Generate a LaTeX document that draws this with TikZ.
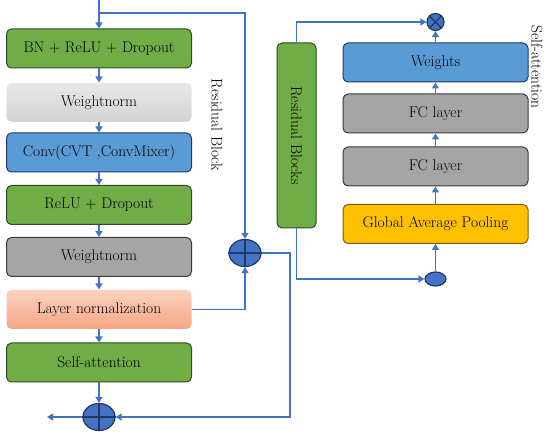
\documentclass[tikz,border=0pt]{standalone}
\usepackage{fontspec}
\usepackage{tikz}
\usetikzlibrary{arrows.meta,calc,shapes.geometric}
\definecolor{ARR}{HTML}{4472C4}
\definecolor{GRN}{HTML}{70AD47}
\definecolor{GRND}{HTML}{2E4A1E}
\definecolor{BLU}{HTML}{5B9BD5}
\definecolor{BLUD}{HTML}{1F3864}
\definecolor{GRY}{HTML}{A5A5A5}
\definecolor{GRYD}{HTML}{3A3A3A}
\definecolor{YEL}{HTML}{FFC000}
\definecolor{YELD}{HTML}{7F6000}
\definecolor{SALT}{HTML}{FBD2BF}
\definecolor{SALB}{HTML}{F4A584}
\begin{document}
\begin{tikzpicture}[x=1pt,y=-1pt]
\tikzset{box/.style={rounded corners=5pt,minimum width=185pt,minimum height=39pt,line width=1pt,
  font=\fontsize{15.5}{17}\selectfont,inner sep=2pt,text=black},
 gbox/.style={box,draw=GRND,fill=GRN},bbox/.style={box,draw=BLUD,fill=BLU},
 ybox/.style={box,draw=YELD,fill=YEL},dbox/.style={box,draw=GRYD,fill=GRY},
 arr/.style={-{Triangle[length=6pt,width=7pt]},line width=1.4pt,ARR},
 sumnode/.style={ellipse,draw=BLUD,fill=ARR,line width=1.2pt,minimum width=32pt,minimum height=27pt,inner sep=0pt},
 lbl/.style={rotate=-90,font=\fontsize{15.5}{17}\selectfont}}
\useasboundingbox (0,0) rectangle (550,435);
% left: residual block
\node[gbox] (bn) at (99,48.5) {BN + ReLU + Dropout};
\node[box,top color=gray!18,bottom color=gray!35] (wna) at (99,102.5) {Weightnorm};
\node[bbox] (conv) at (99,152.5) {Conv(CVT ,ConvMixer)};
\node[gbox] (relu) at (99,205) {ReLU + Dropout};
\node[dbox] (wnb) at (99,257) {Weightnorm};
\node[box,top color=SALT,bottom color=SALB] (lnorm) at (99,309.5) {Layer normalization};
\node[gbox] (satt) at (99,362.5) {Self-attention};
\node[sumnode] (adda) at (245,253) {};
\node[sumnode] (addb) at (99,417) {};
\draw[BLUD,line width=1.2pt] (adda.north)--(adda.south) (adda.west)--(adda.east);
\draw[BLUD,line width=1.2pt] (addb.north)--(addb.south) (addb.west)--(addb.east);
\node[lbl] (rblbl) at (217,125) {Residual Block};
\coordinate (in) at (99,0);
\coordinate (split) at (99,13);
\coordinate (turn) at (290,417);
\coordinate (out) at (47,417);
\draw[arr] (in) -- (bn.north);
\draw[arr] (bn) -- (wna);
\draw[arr] (wna) -- (conv);
\draw[arr] (conv) -- (relu);
\draw[arr] (relu) -- (wnb);
\draw[arr] (wnb) -- (lnorm);
\draw[arr] (lnorm) -- (satt);
\draw[arr] (satt) -- (addb);
\draw[arr] (split) -| (adda.north);
\draw[arr] (lnorm.east) -| (adda.south);
\draw[arr] (adda.east) -| (turn) -- (addb.east);
\draw[arr] (addb.west) -- (out);
% right: self-attention
\node[gbox,rotate=-90,minimum width=185pt,minimum height=39pt] (rb) at (296.5,135.5) {Residual Blocks};
\node[bbox] (wts) at (435.5,62.5) {Weights};
\node[dbox] (fca) at (435.5,113.5) {FC layer};
\node[dbox] (fcb) at (435.5,166.5) {FC layer};
\node[ybox] (gap) at (435.5,224) {Global Average Pooling};
\node[circle,draw=BLUD,fill=ARR,line width=1.2pt,minimum size=17pt,inner sep=0pt] (mul) at (435.5,22) {};
\draw[BLUD,line width=1.2pt] (mul.north west)--(mul.south east) (mul.north east)--(mul.south west);
\node[ellipse,draw=BLUD,fill=ARR,line width=1.2pt,minimum width=21pt,minimum height=14pt,inner sep=0pt] (dot) at (435.5,279) {};
\node[lbl] (salbl) at (537,67) {Self-attention};
\draw[arr] (rb.west) |- (mul.west);
\draw[arr] (rb.east) |- (dot.west);
\draw[arr] (dot) -- (gap);
\draw[arr] (gap) -- (fcb);
\draw[arr] (fcb) -- (fca);
\draw[arr] (fca) -- (wts);
\draw[arr] (wts) -- (mul);
\end{tikzpicture}
\end{document}
